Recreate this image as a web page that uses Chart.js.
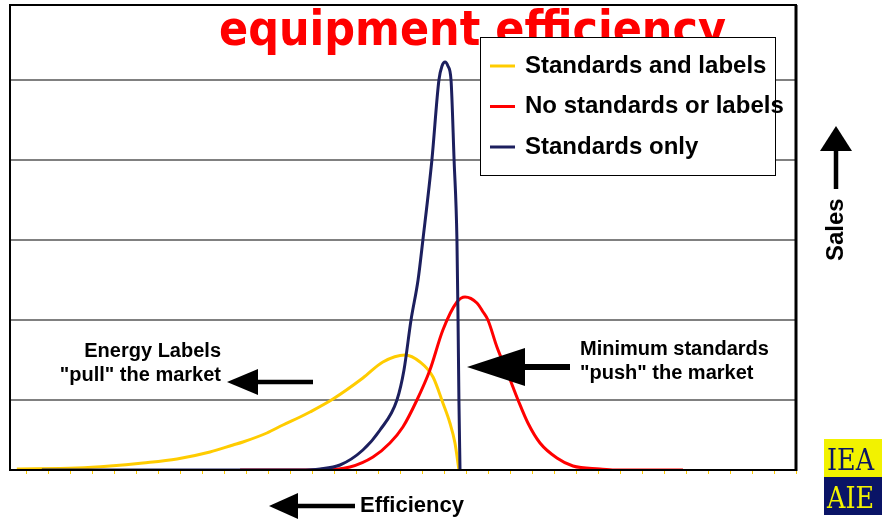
<!DOCTYPE html>
<html>
<head>
<meta charset="utf-8">
<script src="https://cdn.jsdelivr.net/npm/chart.js@4.4.0/dist/chart.umd.min.js"></script>
<style>
    html, body { margin: 0; padding: 0; background: #fff; }
    #chart { display: block; }
</style>
</head>
<body>
<canvas id="chart" width="882" height="519"></canvas>
<script>
// series names and colours, in legend order
const seriesNames = ['Standards and labels', 'No standards or labels', 'Standards only'];
const seriesColors = ['#ffcc00', '#ff0000', '#1c1f5e'];

// efficiency position (one unit per x tick) and sales height
const labelsX = [-0.46, 2.28, 3.78, 5.28, 6.83, 8.33, 9.38, 9.83, 10.92, 11.65, 12.43, 12.88, 13.93, 15.29, 16.2, 17.21, 17.89, 18.48, 18.93, 19.25, 19.48, 19.66];
const labelsY = [1, 2, 4, 7, 11, 18, 25, 28, 37, 45, 53, 58, 71, 92, 108, 115, 108, 93, 67, 47, 27, 0];

const noneX = [9.7, 13.34, 14.7, 15.75, 16.52, 17.11, 17.75, 18.34, 18.93, 19.57, 19.94, 20.48, 20.76, 20.98, 21.39, 21.89, 22.35, 22.8, 23.35, 24.12, 24.85, 26.08, 26.76, 29.86];
const noneY = [0, 0, 3, 13, 27, 43, 70, 100, 140, 168, 173, 167, 158, 150, 123, 96, 70, 47, 27, 12, 4, 1, 0, 0];

const stdX = [0.68, 12.43, 13.34, 14.25, 15.29, 16.07, 16.84, 17.16, 17.48, 17.8, 18.02, 18.43, 18.75, 18.89, 19.03, 19.16, 19.3, 19.44, 19.57, 19.62, 19.66, 19.71];
const stdY = [0, 0, 1, 5, 20, 40, 70, 100, 150, 190, 230, 310, 390, 404, 408, 404, 390, 310, 230, 150, 70, 0];

// axis ticks
const xTicks = [0, 1, 2, 3, 4, 5, 6, 7, 8, 9, 10, 11, 12, 13, 14, 15, 16, 17, 18, 19, 20, 21, 22, 23, 24, 25, 26, 27, 28, 29, 30, 31, 32, 33, 34, 35];
const yGrid = [0, 70, 150, 230, 310, 390, 465];

const chartTitle = 'equipment efficiency';
const xTitle = 'Efficiency';
const yTitle = 'Sales';
const pullNote = ['Energy Labels', '"pull" the market'];
const pushNote = ['Minimum standards', '"push" the market'];

const toPoints = (xs, ys) => xs.map((x, i) => ({ x, y: ys[i] }));

function arrow(ctx, tipX, tipY, dir, headLen, headHalf, shaftLen, shaft) {
    // dir: 'left' or 'up'
    ctx.save();
    ctx.fillStyle = '#000';
    ctx.beginPath();
    if (dir === 'left') {
        ctx.moveTo(tipX, tipY);
        ctx.lineTo(tipX + headLen, tipY - headHalf);
        ctx.lineTo(tipX + headLen, tipY + headHalf);
        ctx.closePath();
        ctx.fill();
        ctx.fillRect(tipX + headLen - 1, tipY - shaft / 2, shaftLen + 1, shaft);
    } else {
        ctx.moveTo(tipX, tipY);
        ctx.lineTo(tipX - headHalf, tipY + headLen);
        ctx.lineTo(tipX + headHalf, tipY + headLen);
        ctx.closePath();
        ctx.fill();
        ctx.fillRect(tipX - shaft / 2, tipY + headLen - 1, shaft, shaftLen + 1);
    }
    ctx.restore();
}

const decor = {
    id: 'decor',
    afterDraw(chart) {
        const ctx = chart.ctx;
        const a = chart.chartArea;
        ctx.save();

        // frame
        ctx.strokeStyle = '#000';
        ctx.lineWidth = 2;
        ctx.strokeRect(a.left, a.top, a.right - a.left, a.bottom - a.top);
        ctx.lineWidth = 3;
        ctx.beginPath();
        ctx.moveTo(a.right, a.top);
        ctx.lineTo(a.right, a.bottom + 1);
        ctx.stroke();

        // title
        ctx.fillStyle = '#ff0000';
        ctx.font = 'bold 48px "DejaVu Sans"';
        ctx.textBaseline = 'alphabetic';
        ctx.textAlign = 'left';
        const tw = ctx.measureText(chartTitle).width;
        ctx.save();
        ctx.translate(219, 45);
        ctx.scale(507 / tw, 1);
        ctx.fillText(chartTitle, 0, 0);
        ctx.restore();

        // legend
        ctx.fillStyle = '#fff';
        ctx.fillRect(480, 37, 295, 138);
        ctx.strokeStyle = '#000';
        ctx.lineWidth = 1;
        ctx.strokeRect(480.5, 37.5, 295, 138);
        ctx.font = 'bold 24px "Liberation Sans"';
        ctx.textBaseline = 'middle';
        chart.data.datasets.forEach((ds, i) => {
            const y = 66 + i * 40.5;
            ctx.strokeStyle = ds.borderColor;
            ctx.lineWidth = 3;
            ctx.beginPath();
            ctx.moveTo(490, y);
            ctx.lineTo(515, y);
            ctx.stroke();
            ctx.fillStyle = '#000';
            ctx.fillText(ds.label, 525, y);
        });

        // notes
        ctx.fillStyle = '#000';
        ctx.textBaseline = 'alphabetic';
        ctx.font = 'bold 20px "Liberation Sans"';
        ctx.textAlign = 'right';
        ctx.fillText(pullNote[0], 221, 357);
        ctx.fillText(pullNote[1], 221, 381);
        ctx.textAlign = 'left';
        ctx.fillText(pushNote[0], 580, 355);
        ctx.fillText(pushNote[1], 580, 379);
        arrow(ctx, 227, 382, 'left', 31, 13, 55, 4.5);
        arrow(ctx, 467, 367, 'left', 58, 19, 45, 6);

        // axis titles
        ctx.font = 'bold 22px "Liberation Sans"';
        ctx.fillText(xTitle, 360, 512);
        arrow(ctx, 269, 506, 'left', 29, 13, 57, 4.5);
        ctx.save();
        ctx.translate(843, 261);
        ctx.rotate(-Math.PI / 2);
        ctx.font = 'bold 24px "Liberation Sans"';
        ctx.textAlign = 'left';
        ctx.fillText(yTitle, 0, 0);
        ctx.restore();
        arrow(ctx, 836, 126, 'up', 25, 16, 38, 4.5);

        // logo
        ctx.fillStyle = '#f2f200';
        ctx.fillRect(824, 439, 58, 38);
        ctx.fillStyle = '#0a1466';
        ctx.fillRect(824, 477, 58, 38);
        ctx.font = '30px "DejaVu Serif"';
        ctx.textAlign = 'left';
        ctx.fillStyle = '#0a1466';
        ctx.save();
        ctx.translate(827, 470);
        ctx.scale(0.85, 1);
        ctx.fillText('IEA', 0, 0);
        ctx.restore();
        ctx.fillStyle = '#f2f200';
        ctx.save();
        ctx.translate(827, 508);
        ctx.scale(0.85, 1);
        ctx.fillText('AIE', 0, 0);
        ctx.restore();

        ctx.restore();
    }
};

const datasets = [
    { label: seriesNames[0], data: toPoints(labelsX, labelsY), borderColor: seriesColors[0], order: 2 },
    { label: seriesNames[1], data: toPoints(noneX, noneY), borderColor: seriesColors[1], order: 1 },
    { label: seriesNames[2], data: toPoints(stdX, stdY), borderColor: seriesColors[2], order: 0 }
].map((ds) => Object.assign(ds, {
    borderWidth: 3,
    pointRadius: 0,
    fill: false,
    cubicInterpolationMode: 'monotone'
}));

new Chart(document.getElementById('chart'), {
    type: 'line',
    data: { datasets },
    options: {
        responsive: false,
        animation: false,
        devicePixelRatio: 1,
        layout: { padding: { left: 10, top: 5, right: 86, bottom: 45 } },
        plugins: { legend: { display: false }, tooltip: { enabled: false } },
        scales: {
            x: {
                type: 'linear',
                min: -0.77,
                max: 35,
                afterBuildTicks: (scale) => { scale.ticks = xTicks.map((value) => ({ value })); },
                ticks: { display: false },
                grid: { drawOnChartArea: false, drawTicks: true, tickLength: 4, color: '#ffcc00', lineWidth: 1 },
                border: { display: true, color: '#000', width: 2 }
            },
            y: {
                min: 0,
                max: 465,
                afterBuildTicks: (scale) => { scale.ticks = yGrid.map((value) => ({ value })); },
                ticks: { display: false },
                grid: { color: '#808080', lineWidth: 2, drawTicks: false },
                border: { display: true, color: '#000', width: 2 }
            }
        }
    },
    plugins: [decor]
});
</script>
</body>
</html>
